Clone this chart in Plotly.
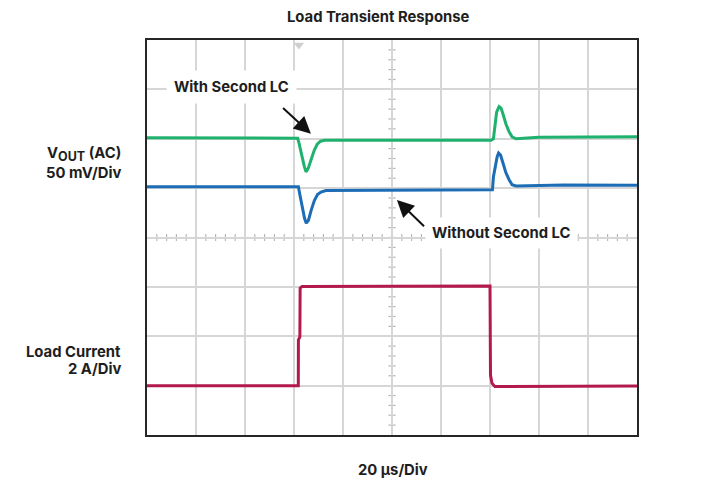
import plotly.graph_objects as go

# ---- data (time in µs, Vout deviation in mV, load current in A) ----
t_green = [0, 30, 61.5, 62.0, 63.0, 64.2, 64.9, 65.8, 67.0, 68.3, 69.5, 70.8, 72.5, 100, 140.4,
           141.4, 142.0, 142.7, 143.7, 144.5, 145.3, 146.5, 147.8, 149.0, 150.6, 160, 200]
v_green = [0, 0, -0.5, -5, -17, -29, -34.5, -31, -22, -12.5, -6.5, -3.5, -2.5, -2.5, -2.5,
           -1, 13, 26, 31.5, 30, 24, 14, 6, 1, -1, 0.5, 1]

t_blue = [0, 30, 61.8, 62.3, 63.3, 64.3, 65.0, 65.9, 67.0, 68.3, 69.6, 71.0, 73.0, 100, 141.0,
          141.4, 142.0, 142.9, 143.5, 144.3, 145.3, 146.5, 147.8, 149.0, 150.6, 170, 200]
v_blue = [0, 0, 0, -7, -21, -32, -37, -34, -24, -14, -8, -5.5, -4, -3.8, -3.2,
          10, 19, 30, 34, 32, 24, 14, 7, 2, 0.7, 1.7, 1.5]

t_load = [0, 61.76, 61.8, 62.4, 62.5, 63.3, 100, 140.0, 140.2, 140.8, 142.0, 200]
i_load = [0, 0, 1.85, 1.97, 3.95, 4.02, 4.03, 4.04, 0.43, 0.1, -0.04, -0.02]

trigger_t = [62.0]

# channel settings
MV_PER_DIV = 50
A_PER_DIV = 2
OFF_GREEN = 2.02   # divisions
OFF_BLUE = 1.03
OFF_LOAD = -3.0

US_PER_DIV = 20
N_XDIV = 10
N_YDIV = 8

C_GREEN = "#1fb26f"
C_BLUE = "#1c6db6"
C_RED = "#b3194b"
FONT = "Inter"

fig = go.Figure()

fig.add_trace(go.Scatter(x=trigger_t, y=[N_YDIV / 2 - 0.1], mode="markers",
                         marker=dict(symbol="triangle-down", size=9, color="#cfcfcf"),
                         hoverinfo="skip"))
fig.add_trace(go.Scatter(x=t_green, y=[OFF_GREEN + v / MV_PER_DIV for v in v_green],
                         mode="lines", line=dict(color=C_GREEN, width=3), hoverinfo="skip"))
fig.add_trace(go.Scatter(x=t_blue, y=[OFF_BLUE + v / MV_PER_DIV for v in v_blue],
                         mode="lines", line=dict(color=C_BLUE, width=3), hoverinfo="skip"))
fig.add_trace(go.Scatter(x=t_load, y=[OFF_LOAD + i / A_PER_DIV for i in i_load],
                         mode="lines", line=dict(color=C_RED, width=3), hoverinfo="skip"))

# minor ticks along the centre lines
xmax = US_PER_DIV * N_XDIV
xc = xmax / 2
shapes = []
for k in range(1, N_XDIV * 5):
    x = k * US_PER_DIV / 5
    shapes.append(dict(type="line", xref="x", yref="y", x0=x, x1=x, y0=-0.07, y1=0.07,
                       line=dict(color="#b8b8b8", width=1.2), layer="below"))
for k in range(1, N_YDIV * 5):
    y = -N_YDIV / 2 + k / 5
    shapes.append(dict(type="line", xref="x", yref="y", x0=xc - 1.45, x1=xc + 1.45, y0=y, y1=y,
                       line=dict(color="#b8b8b8", width=1.2), layer="below"))

lab = dict(family=FONT, size=14.8, color="#1e1e1e")
annotations = [
    dict(text="<b>Load Transient Response</b>", xref="paper", yref="paper", x=0.471, y=1.058,
         showarrow=False, font=lab, xanchor="center", yanchor="middle"),
    dict(text="<b>20 µs/Div</b>", xref="paper", yref="paper", x=0.502, y=-0.0886,
         showarrow=False, font=lab, xanchor="center", yanchor="middle"),
    dict(text="<b>V<sub><span style=\"font-size:12.5px\">OUT</span></sub> (AC)</b>",
         xref="paper", yref="paper", x=-0.049, y=0.711,
         showarrow=False, font=lab, xanchor="right", yanchor="middle"),
    dict(text="<b>50 mV/Div</b>", xref="paper", yref="paper", x=-0.049, y=0.664,
         showarrow=False, font=lab, xanchor="right", yanchor="middle"),
    dict(text="<b>Load Current</b>", xref="paper", yref="paper", x=-0.049, y=0.210,
         showarrow=False, font=lab, xanchor="right", yanchor="middle"),
    dict(text="<b>2 A/Div</b>", xref="paper", yref="paper", x=-0.049, y=0.167,
         showarrow=False, font=lab, xanchor="right", yanchor="middle"),
    dict(text="<b>With Second LC</b>", xref="x", yref="y", x=34.3, y=3.05, showarrow=False,
         font=lab, bgcolor="white", borderpad=7),
    dict(text="<b>Without Second LC</b>", xref="x", yref="y", x=144.5, y=0.09, showarrow=False,
         font=lab, bgcolor="white", borderpad=6),
    dict(text=" ", xref="x", yref="y", x=66.9, y=2.10, axref="x", ayref="y", ax=54.3, ay=2.68,
         showarrow=True, arrowhead=2, arrowsize=1.7, arrowwidth=2, arrowcolor="#111111"),
    dict(text=" ", xref="x", yref="y", x=102.0, y=0.76, axref="x", ayref="y", ax=114.3, ay=0.17,
         showarrow=True, arrowhead=2, arrowsize=1.7, arrowwidth=2, arrowcolor="#111111"),
]

# the page body has an 8px margin; size the figure so the plot box lands where the reference has it
fig.update_layout(
    width=710, height=473,
    margin=dict(l=139, r=81, t=32, b=46),
    paper_bgcolor="white", plot_bgcolor="white",
    showlegend=False,
    shapes=shapes,
    annotations=annotations,
)
fig.update_xaxes(range=[0, xmax], dtick=US_PER_DIV, tick0=0, showgrid=True, gridcolor="#d6d6d6",
                 gridwidth=1.6, showticklabels=False, ticks="", zeroline=False,
                 showline=True, mirror=True, linecolor="#262626", linewidth=2.2)
fig.update_yaxes(range=[-N_YDIV / 2, N_YDIV / 2], dtick=1, tick0=0, showgrid=True,
                 gridcolor="#d6d6d6", gridwidth=1.6, showticklabels=False, ticks="",
                 zeroline=False, showline=True, mirror=True, linecolor="#262626", linewidth=2.2)

fig.write_html("out.html")
